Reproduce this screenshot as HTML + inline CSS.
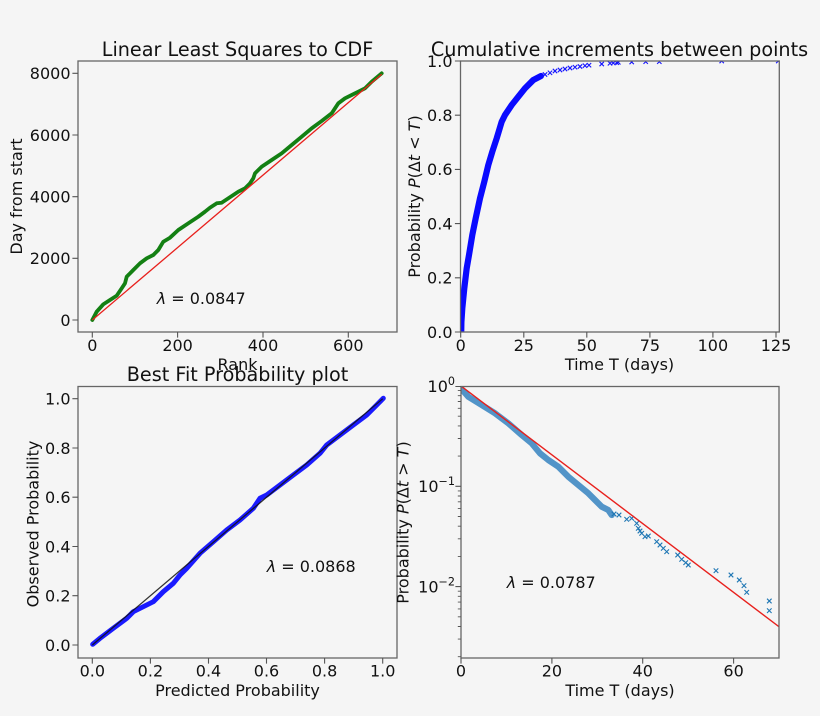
<!DOCTYPE html>
<html>
<head>
<meta charset="utf-8">
<style>
  html, body { margin: 0; padding: 0; background: #f5f5f5; }
  svg { display: block; }
  text { fill: #111; }
</style>
</head>
<body>
<svg width="820" height="716" viewBox="0 0 820 716" xmlns="http://www.w3.org/2000/svg" font-family="'DejaVu Sans', 'Liberation Sans', sans-serif">
  <defs>
    <clipPath id="cTL"><rect x="78" y="61" width="319" height="271"/></clipPath>
    <clipPath id="cTR"><rect x="460.5" y="61" width="318.8" height="271"/></clipPath>
    <clipPath id="cBL"><rect x="78" y="386.5" width="319" height="271.5"/></clipPath>
    <clipPath id="cBR"><rect x="461" y="386.5" width="318" height="271.5"/></clipPath>
  </defs>
  <rect x="0" y="0" width="820" height="716" fill="#f5f5f5"/>

  <!-- ================= TOP LEFT ================= -->
  <g clip-path="url(#cTL)">
    <polyline fill="none" stroke="#138013" stroke-width="3.8" stroke-linejoin="round" stroke-linecap="round"
      points="92.3,320 96.7,311.7 103.3,304.3 110,300 116.7,295.7 121.7,288.3 125,283.3 126.7,276.7 133.3,270 140,263.3 146.7,258.3 153.3,255 158.3,250 163.3,241.7 170,237.7 178.3,230 188.3,223.3 198.3,216.7 205,211.7 210,207.7 216.7,203.3 221.7,202.7 228.3,198.3 238.3,191.7 245,188.3 250,183.3 253.3,178.3 255,173.3 261.7,166.7 271.7,160 281.7,153.3 291.7,145 301.7,136.7 311.7,128.3 321.7,121 331.7,113.3 338.3,103.3 345,98.3 351.7,95 358.3,91.7 365,88.3 371.7,81.7 381.7,73.3"/>
    <line x1="92.3" y1="320" x2="381.7" y2="74.3" stroke="#e8201c" stroke-width="1.3"/>
  </g>
  <rect x="78" y="61" width="319" height="271" fill="none" stroke="#666" stroke-width="1.3"/>
  <path d="M92.3,332v5.6M177.6,332v5.6M263,332v5.6M348.3,332v5.6M78,320h-5.6M78,258.3h-5.6M78,196.7h-5.6M78,135h-5.6M78,73.3h-5.6" stroke="#555" stroke-width="1.1" fill="none"/>
  <g font-size="16" text-anchor="middle">
    <text x="92.3" y="351">0</text>
    <text x="177.6" y="351">200</text>
    <text x="263" y="351">400</text>
    <text x="348.3" y="351">600</text>
  </g>
  <g font-size="16" text-anchor="end">
    <text x="70.5" y="325.8">0</text>
    <text x="70.5" y="264.1">2000</text>
    <text x="70.5" y="202.5">4000</text>
    <text x="70.5" y="140.8">6000</text>
    <text x="70.5" y="79.1">8000</text>
  </g>
  <text x="237.5" y="56" font-size="19.2" text-anchor="middle">Linear Least Squares to CDF</text>
  <text x="237.5" y="370" font-size="16" text-anchor="middle">Rank</text>
  <text transform="translate(22,196.5) rotate(-90)" font-size="16" text-anchor="middle">Day from start</text>
  <text x="156.7" y="304" font-size="16"><tspan font-style="italic">λ</tspan> = 0.0847</text>

  <!-- ================= TOP RIGHT ================= -->
  <g clip-path="url(#cTR)">
    <polyline fill="none" stroke="#0a0aff" stroke-width="6.2" stroke-linejoin="round" stroke-linecap="round"
      points="461.2,334 461.4,322 462.3,308.3 464.3,288.3 466.7,268.3 469,255 472.3,235 475.7,218.3 480,198.3 484.3,181.7 488.3,165 492.3,151.7 496.7,138.3 501.7,121.7 505,115 511.7,105 518.3,96.7 525,88.3 533.3,80 541,76"/>
    <path fill="none" stroke="#1515ff" stroke-width="1.1"
      d="M542.8,72.3l4.4,4.4m0,-4.4l-4.4,4.4
         M547.8,70.6l4.4,4.4m0,-4.4l-4.4,4.4
         M552.8,68.8l4.4,4.4m0,-4.4l-4.4,4.4
         M557.8,67.8l4.4,4.4m0,-4.4l-4.4,4.4
         M562.8,66.8l4.4,4.4m0,-4.4l-4.4,4.4
         M567.8,65.8l4.4,4.4m0,-4.4l-4.4,4.4
         M572.8,65l4.4,4.4m0,-4.4l-4.4,4.4
         M577.8,64.3l4.4,4.4m0,-4.4l-4.4,4.4
         M582.8,63.5l4.4,4.4m0,-4.4l-4.4,4.4
         M586.8,63l4.4,4.4m0,-4.4l-4.4,4.4
         M599.5,61.8l4.4,4.4m0,-4.4l-4.4,4.4
         M607.8,61.1l4.4,4.4m0,-4.4l-4.4,4.4
         M611.1,60.8l4.4,4.4m0,-4.4l-4.4,4.4
         M614.5,60.5l4.4,4.4m0,-4.4l-4.4,4.4
         M616.1,60.1l4.4,4.4m0,-4.4l-4.4,4.4
         M629.5,59.8l4.4,4.4m0,-4.4l-4.4,4.4
         M643.5,59.5l4.4,4.4m0,-4.4l-4.4,4.4
         M657.1,59.5l4.4,4.4m0,-4.4l-4.4,4.4
         M719.5,58.8l4.4,4.4m0,-4.4l-4.4,4.4
         M776.1,58.8l4.4,4.4m0,-4.4l-4.4,4.4"/>
  </g>
  <rect x="460.5" y="61" width="318.8" height="271" fill="none" stroke="#666" stroke-width="1.3"/>
  <path d="M460.7,332v5.6M523.8,332v5.6M586.8,332v5.6M649.9,332v5.6M712.9,332v5.6M776,332v5.6M460.5,332h-5.6M460.5,277.8h-5.6M460.5,223.6h-5.6M460.5,169.4h-5.6M460.5,115.2h-5.6M460.5,61h-5.6" stroke="#555" stroke-width="1.1" fill="none"/>
  <g font-size="16" text-anchor="middle">
    <text x="460.7" y="351">0</text>
    <text x="523.8" y="351">25</text>
    <text x="586.8" y="351">50</text>
    <text x="649.9" y="351">75</text>
    <text x="712.9" y="351">100</text>
    <text x="776" y="351">125</text>
  </g>
  <g font-size="16" text-anchor="end">
    <text x="452.5" y="337.8">0.0</text>
    <text x="452.5" y="283.6">0.2</text>
    <text x="452.5" y="229.4">0.4</text>
    <text x="452.5" y="175.2">0.6</text>
    <text x="452.5" y="121">0.8</text>
    <text x="452.5" y="66.8">1.0</text>
  </g>
  <text x="619.5" y="56" font-size="19.2" text-anchor="middle">Cumulative increments between points</text>
  <text x="619.5" y="370" font-size="16" text-anchor="middle">Time T (days)</text>
  <text transform="translate(420,196.5) rotate(-90)" font-size="16" text-anchor="middle">Probability <tspan font-style="italic">P</tspan>(Δ<tspan font-style="italic">t</tspan> &lt; <tspan font-style="italic">T</tspan>)</text>

  <!-- ================= BOTTOM LEFT ================= -->
  <g clip-path="url(#cBL)">
    <polyline fill="none" stroke="#1a1aff" stroke-width="5" stroke-linejoin="round" stroke-linecap="round"
      points="92.7,644.3 100,638.3 113.3,628.3 126.7,618.3 133.3,611.7 143.3,606.7 153.3,601.7 163.3,591.7 173.3,583.3 180,575 186.7,568.3 200,553.3 213.3,541.7 226.7,530 240,520 253.3,508.3 260,498.3 266.7,495 280,485 293.3,475 306.7,465 320,453.3 326.7,445 340,435 353.3,425 366.7,415 376.7,405 383.3,398.3"/>
    <line x1="92.3" y1="645" x2="382.7" y2="398.7" stroke="#111" stroke-width="1.3" opacity="0.85"/>
  </g>
  <rect x="78" y="386.5" width="319" height="271.5" fill="none" stroke="#666" stroke-width="1.3"/>
  <path d="M92.3,658v5.6M150.4,658v5.6M208.5,658v5.6M266.5,658v5.6M324.6,658v5.6M382.7,658v5.6M78,645h-5.6M78,595.7h-5.6M78,546.5h-5.6M78,497.2h-5.6M78,448h-5.6M78,398.7h-5.6" stroke="#555" stroke-width="1.1" fill="none"/>
  <g font-size="16" text-anchor="middle">
    <text x="92.3" y="676.7">0.0</text>
    <text x="150.4" y="676.7">0.2</text>
    <text x="208.5" y="676.7">0.4</text>
    <text x="266.5" y="676.7">0.6</text>
    <text x="324.6" y="676.7">0.8</text>
    <text x="382.7" y="676.7">1.0</text>
  </g>
  <g font-size="16" text-anchor="end">
    <text x="70.5" y="650.8">0.0</text>
    <text x="70.5" y="601.5">0.2</text>
    <text x="70.5" y="552.3">0.4</text>
    <text x="70.5" y="503">0.6</text>
    <text x="70.5" y="453.8">0.8</text>
    <text x="70.5" y="404.5">1.0</text>
  </g>
  <text x="237.5" y="381" font-size="19.2" text-anchor="middle">Best Fit Probability plot</text>
  <text x="237.5" y="696" font-size="16" text-anchor="middle">Predicted Probability</text>
  <text transform="translate(38.4,524) rotate(-90)" font-size="16" text-anchor="middle">Observed Probability</text>
  <text x="266.7" y="572" font-size="16"><tspan font-style="italic">λ</tspan> = 0.0868</text>

  <!-- ================= BOTTOM RIGHT ================= -->
  <g clip-path="url(#cBR)">
    <polyline fill="none" stroke="#3583c0" stroke-width="6.2" stroke-linejoin="round" stroke-linecap="round" opacity="0.85"
      points="461.5,389 468.3,396.7 481.7,405 495,413.3 508.3,423.3 521.7,435 531.7,443.3 540,453.3 548.3,460 558.3,466.7 568.3,476.7 578.3,485 588.3,493.3 595,500 601.7,506.7 608.3,510 611.7,515"/>
    <path fill="none" stroke="#1f77b4" stroke-width="1.1"
      d="M611.7,511.7l4.6,4.6m0,-4.6l-4.6,4.6
         M616.7,512.7l4.6,4.6m0,-4.6l-4.6,4.6
         M624.4,517l4.6,4.6m0,-4.6l-4.6,4.6
         M629.4,516l4.6,4.6m0,-4.6l-4.6,4.6
         M634.4,521l4.6,4.6m0,-4.6l-4.6,4.6
         M636,526l4.6,4.6m0,-4.6l-4.6,4.6
         M637.7,528.7l4.6,4.6m0,-4.6l-4.6,4.6
         M639.4,531l4.6,4.6m0,-4.6l-4.6,4.6
         M642.7,534.4l4.6,4.6m0,-4.6l-4.6,4.6
         M646,533.7l4.6,4.6m0,-4.6l-4.6,4.6
         M654.4,539.4l4.6,4.6m0,-4.6l-4.6,4.6
         M657.7,542.7l4.6,4.6m0,-4.6l-4.6,4.6
         M661,546l4.6,4.6m0,-4.6l-4.6,4.6
         M664.4,549.4l4.6,4.6m0,-4.6l-4.6,4.6
         M675.4,552.7l4.6,4.6m0,-4.6l-4.6,4.6
         M679.4,557l4.6,4.6m0,-4.6l-4.6,4.6
         M683.4,560.4l4.6,4.6m0,-4.6l-4.6,4.6
         M686,562.7l4.6,4.6m0,-4.6l-4.6,4.6
         M713.7,568.4l4.6,4.6m0,-4.6l-4.6,4.6
         M728.7,572.7l4.6,4.6m0,-4.6l-4.6,4.6
         M737,577.7l4.6,4.6m0,-4.6l-4.6,4.6
         M741.7,583.4l4.6,4.6m0,-4.6l-4.6,4.6
         M744.4,590l4.6,4.6m0,-4.6l-4.6,4.6
         M767,598.7l4.6,4.6m0,-4.6l-4.6,4.6
         M767,608.4l4.6,4.6m0,-4.6l-4.6,4.6"/>
    <line x1="461" y1="386" x2="779" y2="626.7" stroke="#e8201c" stroke-width="1.4"/>
  </g>
  <rect x="461" y="386.5" width="318" height="271.5" fill="none" stroke="#666" stroke-width="1.3"/>
  <path d="M461,658v5.6M551.9,658v5.6M642.7,658v5.6M733.6,658v5.6M461,386.5h-5.6M461,486.3h-5.6M461,586.6h-5.6" stroke="#555" stroke-width="1.1" fill="none"/>
  <path d="M461,456.1h-3.2M461,438.5h-3.2M461,425.9h-3.2M461,416.2h-3.2M461,408.3h-3.2M461,401.5h-3.2M461,395.7h-3.2M461,390.6h-3.2
           M461,556.4h-3.2M461,538.8h-3.2M461,526.2h-3.2M461,516.5h-3.2M461,508.6h-3.2M461,501.8h-3.2M461,496h-3.2M461,490.9h-3.2
           M461,656.7h-3.2M461,639.1h-3.2M461,626.5h-3.2M461,616.8h-3.2M461,608.9h-3.2M461,602.1h-3.2M461,596.3h-3.2M461,591.2h-3.2" stroke="#555" stroke-width="0.9" fill="none"/>
  <g font-size="16" text-anchor="middle">
    <text x="461" y="676.7">0</text>
    <text x="551.9" y="676.7">20</text>
    <text x="642.7" y="676.7">40</text>
    <text x="733.6" y="676.7">60</text>
  </g>
  <g font-size="16" text-anchor="end">
    <text x="455" y="392">10<tspan dy="-7" font-size="11.2">0</tspan></text>
    <text x="455" y="492">10<tspan dy="-7" font-size="11.2">−1</tspan></text>
    <text x="455" y="592.4">10<tspan dy="-7" font-size="11.2">−2</tspan></text>
  </g>
  <text x="620" y="696" font-size="16" text-anchor="middle">Time T (days)</text>
  <text transform="translate(408.5,522.5) rotate(-90)" font-size="16" text-anchor="middle">Probability <tspan font-style="italic">P</tspan>(Δ<tspan font-style="italic">t</tspan> &gt; <tspan font-style="italic">T</tspan>)</text>
  <text x="506.7" y="588" font-size="16"><tspan font-style="italic">λ</tspan> = 0.0787</text>
</svg>
</body>
</html>
